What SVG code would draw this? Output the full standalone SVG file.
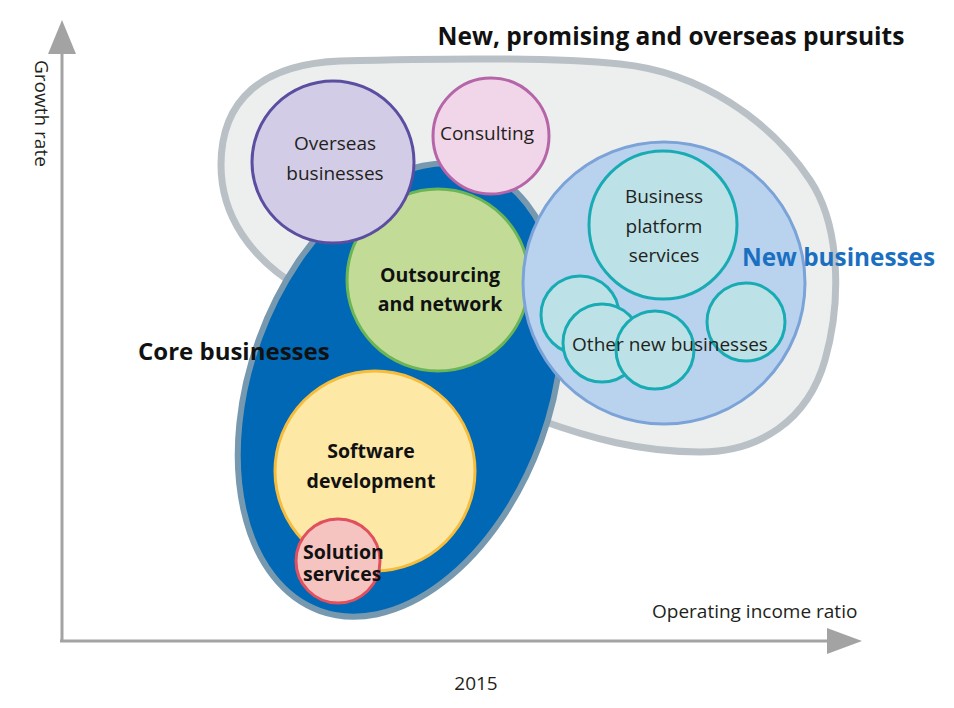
<svg xmlns="http://www.w3.org/2000/svg" width="954" height="708" viewBox="0 0 954 708">
<style>
text{font-family:"Open Sans","Noto Sans","Liberation Sans",sans-serif;fill:#231f20;}
.n{font-size:19px;}
.b{font-size:19.5px;font-weight:bold;fill:#111;}
.c{text-anchor:middle;}
.axis{stroke:#a3a3a3;stroke-width:3;fill:none;}
.head{fill:#a3a3a3;}
.sm{fill:#bce2e8;stroke:#19abb3;stroke-width:3;}
</style>
<rect width="954" height="708" fill="#ffffff"/>
<g id="axes">
<line class="axis" x1="62" y1="641" x2="62" y2="50"/>
<polygon class="head" points="62,20 48,54 76,54"/>
<line class="axis" x1="60" y1="641" x2="830" y2="641"/>
<polygon class="head" points="862,641 827,628 827,654"/>
<text class="n" transform="translate(35,60) rotate(90)">Growth rate</text>
<text class="n" x="652" y="618">Operating income ratio</text>
<text class="n c" x="476" y="690">2015</text>
</g>
<g id="pursuits">
<path d="M 300 288 C 250 258, 221 215, 221 165 C 221 100, 262 64, 340 61 C 450 58, 560 58, 620 64 C 700 72, 770 120, 810 180 C 840 225, 842 300, 825 360 C 808 420, 760 452, 700 452 C 640 452, 590 438, 540 420 L 420 360 Z" fill="#edefee" stroke="#b9c1c7" stroke-width="7"/>
<text x="671" y="45" class="c" style="font-size:24.5px;font-weight:bold;fill:#111;">New, promising and overseas pursuits</text>
</g>
<g id="core">
<ellipse cx="400" cy="390" rx="150" ry="235" transform="rotate(20 400 390)" fill="#0068b4" stroke="#7799b0" stroke-width="6"/>
<text x="138" y="360" style="font-size:24px;font-weight:bold;fill:#111;">Core businesses</text>
</g>
<g id="outsourcing">
<circle cx="438" cy="280" r="91" fill="#c2dc98" stroke="#6cb556" stroke-width="3"/>
<text class="b c" x="440" y="282">Outsourcing</text>
<text class="b c" x="440" y="311">and network</text>
</g>
<g id="software">
<circle cx="375" cy="471" r="100" fill="#fde8a6" stroke="#f6bc3c" stroke-width="3"/>
<text class="b c" x="371" y="458">Software</text>
<text class="b c" x="371" y="488">development</text>
</g>
<g id="solution">
<circle cx="338" cy="561" r="42" fill="#f6c4c0" stroke="#e0505e" stroke-width="3"/>
<text class="b" x="303" y="559">Solution</text>
<text class="b" x="303" y="581">services</text>
</g>
<g id="overseas">
<circle cx="333" cy="162" r="81" fill="#d2cce6" stroke="#5b4ea0" stroke-width="3"/>
<text class="n c" x="335" y="150">Overseas</text>
<text class="n c" x="335" y="180">businesses</text>
</g>
<g id="consulting">
<circle cx="491" cy="136" r="58" fill="#f0d6e8" stroke="#b565a8" stroke-width="3"/>
<text class="n c" x="487" y="140">Consulting</text>
</g>
<g id="new-businesses">
<circle cx="664" cy="283" r="141" fill="#b9d3ee" stroke="#7ba3d8" stroke-width="3"/>
<text x="742" y="266" style="font-size:24.3px;font-weight:bold;fill:#1a6fc1;">New businesses</text>
</g>
<g id="platform">
<circle class="sm" cx="663" cy="225" r="74"/>
<text class="n c" x="664" y="203">Business</text>
<text class="n c" x="664" y="233">platform</text>
<text class="n c" x="664" y="262">services</text>
</g>
<g id="other-new">
<circle class="sm" cx="580" cy="315" r="39"/>
<circle class="sm" cx="746" cy="322" r="39"/>
<circle class="sm" cx="602" cy="343" r="39"/>
<circle class="sm" cx="655" cy="350" r="39"/>
<text class="n c" x="670" y="351">Other new businesses</text>
</g>
</svg>
